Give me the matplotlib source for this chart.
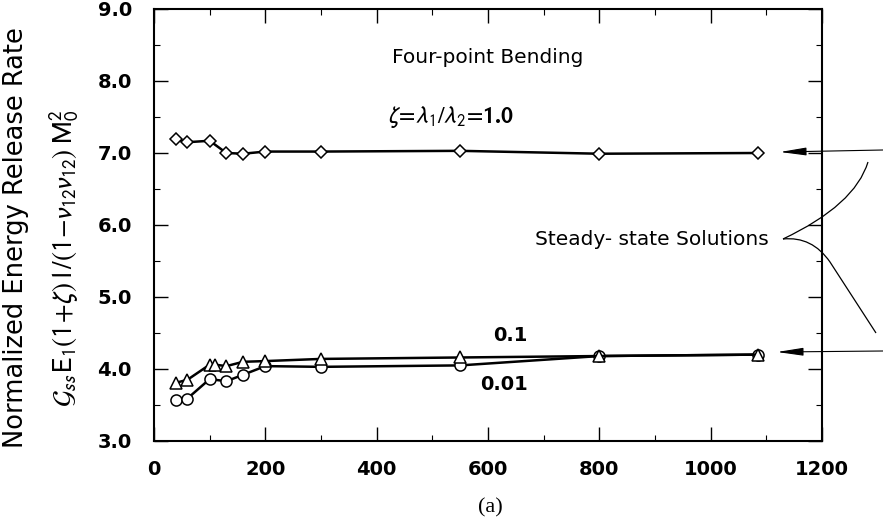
import matplotlib
matplotlib.use("Agg")
import matplotlib.pyplot as plt
from matplotlib.path import Path
from matplotlib.patches import PathPatch, FancyArrowPatch
from matplotlib.ticker import MultipleLocator

plt.rcParams['font.family'] = ['DejaVu Sans']
plt.rcParams['mathtext.fontset'] = 'stixsans'

# ---- data ----
x_zeta1 = [40, 60, 100, 130, 160, 200, 300, 550, 800, 1085]
y_zeta1 = [7.19, 7.15, 7.17, 7.00, 6.99, 7.02, 7.02, 7.03, 6.99, 7.00]

x_zeta01 = [40, 60, 100, 110, 130, 160, 200, 300, 550, 800, 1085]
y_zeta01 = [3.81, 3.85, 4.06, 4.06, 4.04, 4.10, 4.11, 4.14, 4.16, 4.18, 4.20]

x_zeta001 = [40, 60, 100, 130, 160, 200, 300, 550, 800, 1085]
y_zeta001 = [3.57, 3.59, 3.86, 3.83, 3.92, 4.04, 4.03, 4.05, 4.18, 4.20]

xticks = [0, 200, 400, 600, 800, 1000, 1200]
yticks = [3.0, 4.0, 5.0, 6.0, 7.0, 8.0, 9.0]

W, H = 883, 525
fig = plt.figure(figsize=(W / 100, H / 100), dpi=100)
L, R, T, B = 154, 822, 9, 441
ax = fig.add_axes([L / W, 1 - B / H, (R - L) / W, (B - T) / H])

lw = 1.8
ax.plot(x_zeta1, y_zeta1, '-', color='black', lw=lw, marker='D', ms=6.0,
        mfc='white', mec='black', mew=1.1, zorder=3)
ax.plot(x_zeta001, y_zeta001, '-', color='black', lw=lw, marker='o', ms=8,
        mfc='white', mec='black', mew=1.1, zorder=3)
ax.plot(x_zeta01, y_zeta01, '-', color='black', lw=lw, marker='^', ms=8.5,
        mfc='white', mec='black', mew=1.1, zorder=4)

ax.set_xlim(0, 1200)
ax.set_ylim(3.0, 9.0)
ax.set_xticks(xticks)
ax.set_xticklabels([str(v) for v in xticks], fontsize=14, fontweight='bold')
ax.set_yticks(yticks)
ax.set_yticklabels([f"{v:.1f}" for v in yticks], fontsize=14, fontweight='bold')
ax.xaxis.set_minor_locator(MultipleLocator(100))
ax.yaxis.set_minor_locator(MultipleLocator(0.5))
ax.tick_params(which='major', direction='in', length=10, width=1.0,
               top=True, right=True)
ax.tick_params(which='minor', direction='in', length=4, width=0.8,
               top=True, right=True)
ax.tick_params(axis='x', pad=14)
ax.tick_params(axis='y', pad=16)
for s in ax.spines.values():
    s.set_linewidth(1.5)

# in-axes annotations
ax.text(600, 8.33, "Four-point Bending", fontsize=14.5, ha='center', va='center')
ax.text(533, 7.5, r"$\zeta\!=\!\lambda_{1}/\lambda_{2}\!=\!\mathbf{1.0}$",
        fontsize=17, ha='center', va='center')
ax.text(895, 5.8, "Steady- state Solutions", fontsize=14.5, ha='center', va='center')
ax.text(640, 4.47, "0.1", fontsize=14, fontweight='bold', ha='center', va='center')
ax.text(629, 3.78, "0.01", fontsize=14, fontweight='bold', ha='center', va='center')

# overlay in pixel coordinates for marks outside the axes
ov = fig.add_axes([0, 0, 1, 1], zorder=5)
ov.set_xlim(0, W)
ov.set_ylim(H, 0)
ov.axis('off')
ov.patch.set_alpha(0)

for (x0, y0, x1, y1) in [(883, 150, 780, 152), (883, 351, 777, 352)]:
    ov.add_patch(FancyArrowPatch((x0, y0), (x1, y1),
                                 arrowstyle="-|>,head_length=1.0,head_width=0.15",
                                 mutation_scale=16, lw=0.8, color='black',
                                 shrinkA=0, shrinkB=0))

up = Path([(783, 239), (855, 205), (868, 162)],
          [Path.MOVETO, Path.CURVE3, Path.CURVE3])
down = Path([(783, 239), (812, 236), (830, 262), (876, 333)],
            [Path.MOVETO, Path.CURVE3, Path.CURVE3, Path.LINETO])
for p in (up, down):
    ov.add_patch(PathPatch(p, fc='none', ec='black', lw=0.9))

# y label (two lines)
fig.text(16 / W, 1 - 238 / H, "Normalized Energy Release Rate", rotation=90,
         fontsize=18.5, ha='center', va='center')
fig.text(64 / W, 1 - 258 / H,
         r"$\mathcal{G}_{ss}\,\mathrm{E}_1(1\!+\!\zeta)\;\mathrm{l}\,/(1\!-\!\nu_{12}\nu_{12})\;\mathrm{M}_0^2$",
         rotation=90, fontsize=19.5, ha='center', va='center')

fig.text(490 / W, 1 - 508 / H, "(a)", fontsize=16, ha='center', va='center',
         family='Liberation Serif')

fig.savefig("out.png", dpi=100)
